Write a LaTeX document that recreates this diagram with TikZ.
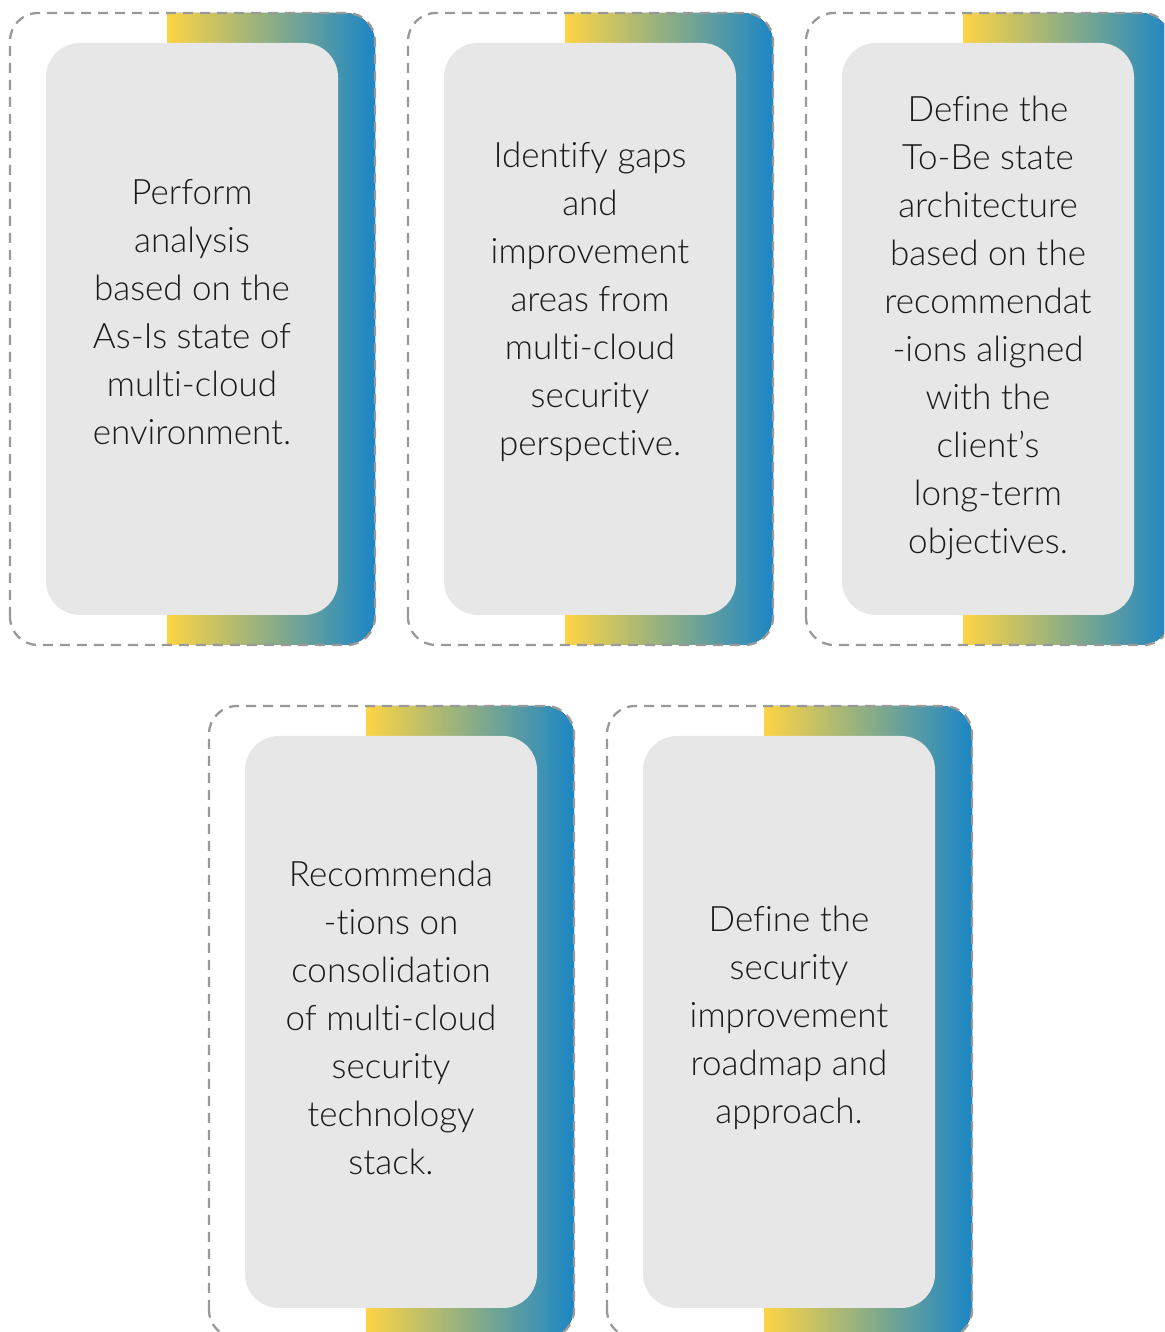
\documentclass[tikz,border=0pt]{standalone}
\usepackage{fontspec}
\setmainfont{Lato Light}[Ligatures=NoCommon]
\definecolor{gyellow}{HTML}{FDD445}
\definecolor{gblue}{HTML}{1B86C6}
\definecolor{dashgray}{HTML}{999999}
\definecolor{boxgray}{HTML}{E7E7E7}
\definecolor{textcol}{HTML}{1A1A1A}
\tikzset{
  dashbox/.style={draw=dashgray, line width=2.3pt, dash pattern=on 10pt off 7pt, rounded corners=28pt},
  gradbox/.style={left color=gyellow, right color=gblue, draw=none},
  graybox/.style={fill=boxgray, rounded corners=34pt},
  cardtext/.style={align=center, text=textcol, font=\fontsize{35}{48}\selectfont, inner sep=0pt}
}
\newcommand\drawcard{%
  \fill[gradbox] (167,1319) -- (345,1319) arc[start angle=90,end angle=0,radius=30] -- (375,717) arc[start angle=0,end angle=-90,radius=30] -- (167,687) -- cycle;
  \draw[dashbox] (10,687) rectangle (375,1319);
  \fill[graybox] (46,717) rectangle (338,1289);
}
\begin{document}
\begin{tikzpicture}[x=1pt,y=1pt]
\useasboundingbox (0,0) rectangle (1164,1332);
\clip (0,0) rectangle (1164,1332);
\begin{scope}\drawcard\end{scope}
\begin{scope}[shift={(398,0)}]\drawcard\end{scope}
\begin{scope}[shift={(796,0)}]\drawcard\end{scope}
\begin{scope}[shift={(199,-693)}]\drawcard\end{scope}
\begin{scope}[shift={(597,-693)}]\drawcard\end{scope}
\node[cardtext] (t1) at (192,1020) {Perform\\analysis\\based on the\\As-Is state of\\multi-cloud\\environment.};
\node[cardtext] (t2) at (590,1030) {Identify gaps\\and\\improvement\\areas from\\multi-cloud\\security\\perspective.};
\node[cardtext] (t3) at (988,1004) {Define the\\To-Be state\\architecture\\based on the\\recommendat\\-ions aligned\\with the\\client’s\\long-term\\objectives.};
\node[cardtext] (t4) at (391,314) {Recommenda\\-tions on\\consolidation\\of multi-cloud\\security\\technology\\stack.};
\node[cardtext] (t5) at (789,314) {Define the\\security\\improvement\\roadmap and\\approach.};
\end{tikzpicture}
\end{document}
